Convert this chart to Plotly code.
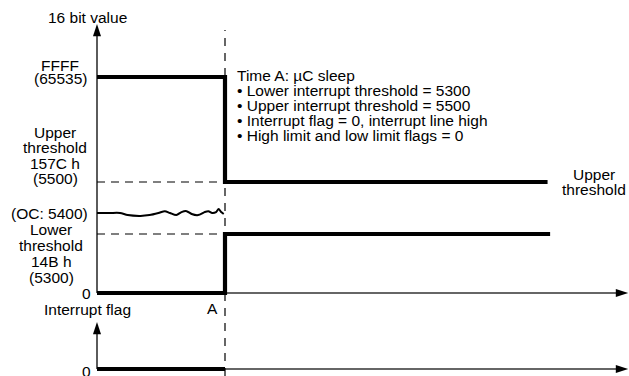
import numpy as np
import plotly.graph_objects as go

# ---------------- data ----------------
# register levels (16 bit value) and their schematic (non-linear) axis position
level_values = [0, 5300, 5400, 5500, 65535]
level_scale = [0, 59, 80, 111, 216]
axis_top = 269            # schematic position of the arrow tip of the value axis

time_A = 10
t_axis_end = 41.5

# upper interrupt threshold register: FFFF before A, 5500 after
upper_t = [0, 10, 10, 35.2]
upper_v = [65535, 65535, 5500, 5500]
# lower interrupt threshold register: 0 before A, 5300 after
lower_t = [0, 10, 10, 35.4]
lower_v = [0, 0, 5300, 5300]
# output code (OC) wandering around 5400 before A
oc_t = [0, 1.0, 1.8, 2.4, 3.4, 4.1, 4.8, 5.3, 5.7, 6.2, 6.6, 7.0, 7.4, 7.9, 8.4,
        8.7, 9.0, 9.3, 9.5, 9.7, 9.9]
oc_v = [5400, 5400, 5400, 5390, 5386, 5390, 5400, 5406, 5400, 5390, 5403, 5406,
        5395, 5390, 5403, 5406, 5400, 5403, 5413, 5403, 5395]
# dashed guide lines of thresholds before A
guide_t = [0, 10]
guide_upper = [5500, 5500]
guide_lower = [5300, 5300]
# interrupt flag
flag_t = [0, 10]
flag_v = [0, 0]

info_lines = [
    "Time A: \u00b5C sleep",
    "\u2022 Lower interrupt threshold = 5300",
    "\u2022 Upper interrupt threshold = 5500",
    "\u2022 Interrupt flag = 0, interrupt line high",
    "\u2022 High limit and low limit flags = 0",
]


def ypos(v):
    return list(np.interp(v, level_values, level_scale))


FONT = dict(family="Liberation Sans, Arial, Helvetica, sans-serif", size=15.5, color="#000")
AX = "#333333"

fig = go.Figure()

# axes (drawn as lines with arrow heads)
fig.add_trace(go.Scatter(x=[0, 0], y=[0, axis_top - 6], mode="lines",
                         line=dict(color=AX, width=1.6), xaxis="x", yaxis="y", hoverinfo="skip"))
fig.add_trace(go.Scatter(x=[0, t_axis_end - 0.5], y=[0, 0], mode="lines",
                         line=dict(color=AX, width=1.6), xaxis="x", yaxis="y", hoverinfo="skip"))
fig.add_trace(go.Scatter(x=[0, 0], y=[0, 1 - 0.12], mode="lines",
                         line=dict(color=AX, width=1.6), xaxis="x", yaxis="y2", hoverinfo="skip"))
fig.add_trace(go.Scatter(x=[0, t_axis_end - 0.5], y=[0, 0], mode="lines",
                         line=dict(color=AX, width=1.6), xaxis="x", yaxis="y2", hoverinfo="skip"))
fig.add_trace(go.Scatter(x=[0, t_axis_end], y=[axis_top, 0], mode="markers", cliponaxis=False,
                         marker=dict(symbol="arrow", size=13, angle=[0, 90], color="#000",
                                     line=dict(width=0)),
                         xaxis="x", yaxis="y", hoverinfo="skip"))
fig.add_trace(go.Scatter(x=[0, t_axis_end], y=[1, 0], mode="markers", cliponaxis=False,
                         marker=dict(symbol="arrow", size=13, angle=[0, 90], color="#000",
                                     line=dict(width=0)),
                         xaxis="x", yaxis="y2", hoverinfo="skip"))

# dashed threshold guides
for gv in (guide_upper, guide_lower):
    fig.add_trace(go.Scatter(x=guide_t, y=ypos(gv), mode="lines",
                             line=dict(color="#000", width=1.1, dash="8px,6px"),
                             xaxis="x", yaxis="y", hoverinfo="skip"))

# output code
fig.add_trace(go.Scatter(x=oc_t, y=ypos(oc_v), mode="lines",
                         line=dict(color="#000", width=2, shape="spline", smoothing=0.8),
                         xaxis="x", yaxis="y", hoverinfo="skip"))
# threshold registers
fig.add_trace(go.Scatter(x=upper_t, y=ypos(upper_v), mode="lines",
                         line=dict(color="#000", width=4.2), xaxis="x", yaxis="y", hoverinfo="skip"))
fig.add_trace(go.Scatter(x=lower_t, y=ypos(lower_v), mode="lines",
                         line=dict(color="#000", width=4.2), xaxis="x", yaxis="y", hoverinfo="skip"))
# interrupt flag
fig.add_trace(go.Scatter(x=flag_t, y=flag_v, mode="lines",
                         line=dict(color="#000", width=4.2), xaxis="x", yaxis="y2", hoverinfo="skip"))

# vertical dashed line at time A
fig.add_shape(type="line", xref="x", yref="paper", x0=time_A, x1=time_A,
              y0=0, y1=(376 - 30) / 376,
              line=dict(color="#000", width=1.2, dash="8px,7px"))

ann = []


def label(text, x, y, yref="y", xshift=0, yshift=0, xanchor="center"):
    ann.append(dict(text=text, x=x, y=y, xref="x", yref=yref, xshift=xshift, yshift=yshift,
                    xanchor=xanchor, yanchor="middle", showarrow=False, font=FONT))


lv = dict(zip(level_values, level_scale))
label("16 bit value", 0, axis_top, xshift=-10, yshift=7)
label("FFFF", 0, lv[65535], xshift=-37, yshift=12)
label("(65535)", 0, lv[65535], xshift=-37, yshift=-1)
for i, t in enumerate(["Upper", "threshold", "157C h", "(5500)"]):
    label(t, 0, lv[5500], xshift=-42, yshift=50 - 15.5 * i)
label("(OC: 5400)", 0, lv[5400], xshift=-48)
for i, t in enumerate(["Lower", "threshold", "14B h", "(5300)"]):
    label(t, 0, lv[5300], xshift=-46, yshift=5 - 16 * i)
label("0", 0, 0, xshift=-11)
label("Interrupt flag", 0, 1, yref="y2", xshift=-10, yshift=13)
label("A", time_A, 0, xshift=-13, yshift=-15)
label("0", 0, 0, yref="y2", xshift=-11, yshift=-2)
for i, t in enumerate(info_lines):
    label(t, time_A, lv[65535], xshift=10, yshift=2 - 15 * i, xanchor="left")
label("Upper", upper_t[-1], lv[5500], xshift=46, yshift=8)
label("threshold", upper_t[-1], lv[5500], xshift=46, yshift=-7)

px_per_t = 12.8
x0_px = 97
fig.update_layout(
    width=629, height=376, margin=dict(l=0, r=0, t=0, b=0),
    paper_bgcolor="white", plot_bgcolor="rgba(0,0,0,0)", showlegend=False,
    xaxis=dict(domain=[0, 1], range=[-x0_px / px_per_t, (629 - x0_px) / px_per_t],
               visible=False, anchor="y"),
    yaxis=dict(domain=[(376 - 307) / 376, (376 - 3) / 376], range=[-14, 290], visible=False),
    yaxis2=dict(domain=[0, (376 - 317.3) / 376], range=[-7 / 47, 1 + 4.7 / 47], visible=False),
    annotations=ann,
)

fig.write_html("out.html", config={"displayModeBar": False, "staticPlot": True},
               post_script="document.body.style.margin='0px';")
